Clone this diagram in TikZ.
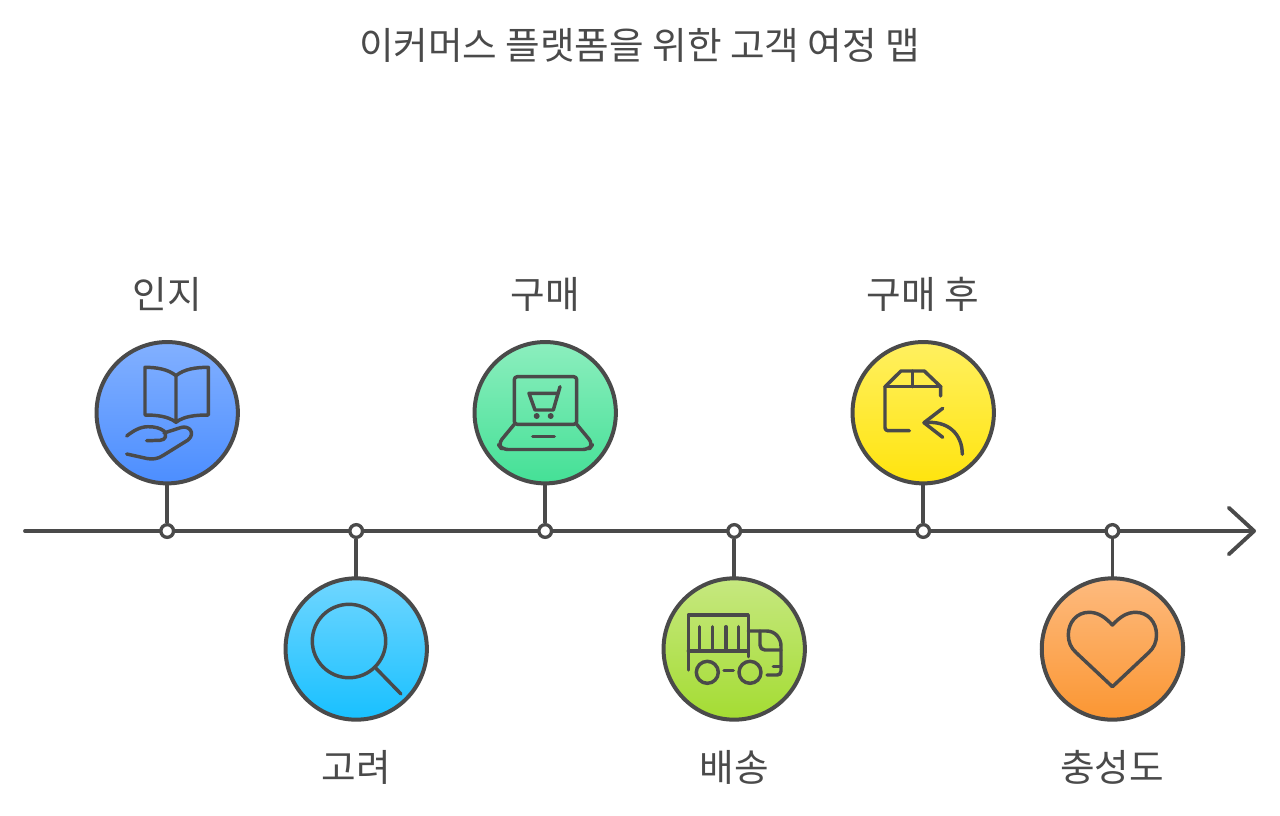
\documentclass[tikz,border=0pt]{standalone}
\usepackage{fontspec}
\usepackage{xcolor}
\usetikzlibrary{arrows.meta}
\setmainfont{Noto Sans CJK KR}
\definecolor{ink}{RGB}{74,74,74}
\definecolor{blueA}{RGB}{130,176,255}
\definecolor{blueB}{RGB}{76,142,255}
\definecolor{cyanA}{RGB}{112,214,255}
\definecolor{cyanB}{RGB}{24,192,255}
\definecolor{mintA}{RGB}{140,238,190}
\definecolor{mintB}{RGB}{68,224,150}
\definecolor{limeA}{RGB}{198,232,128}
\definecolor{limeB}{RGB}{164,220,50}
\definecolor{sunA}{RGB}{255,240,96}
\definecolor{sunB}{RGB}{255,228,14}
\definecolor{peachA}{RGB}{253,186,126}
\definecolor{peachB}{RGB}{251,150,50}
\tikzset{
  stage/.style={circle, draw=ink, line width=3pt, minimum size=106pt, inner sep=0pt, outer sep=0pt},
  tick/.style={circle, draw=ink, fill=white, line width=2.5pt, minimum size=9.5pt, inner sep=0pt},
  stem/.style={draw=ink, line width=2.8pt},
  axisLine/.style={draw=ink, line width=2.9pt, line cap=round, -{Straight Barb[length=19pt, width=35pt, line width=2.9pt, round]}},
  glyph/.style={draw=ink, line width=2.6pt, line cap=round, line join=round},
  label/.style={text=ink, font=\fontsize{28.2}{32}\selectfont, inner sep=0pt}
}
\newcommand{\IconBook}{%
  \draw[glyph] (176,375.7) .. controls (168,369) and (156,367.3) .. (145,367.3) -- (145,415)
    .. controls (156,415) and (168,416) .. (176,422.3)
    .. controls (184,416) and (196,415) .. (208.3,415) -- (208.3,367.3)
    .. controls (196,367.3) and (184,369) .. (176,375.7) -- cycle (176,375.7) -- (176,422.3);
  \draw[glyph] (126.7,436) .. controls (133,431) and (140,426.7) .. (148,426.7)
    .. controls (155,426.7) and (160,428) .. (164,431) .. controls (167,435) and (166,440) .. (160,440.3) -- (146.7,440.7);
  \draw[glyph] (164,433) -- (181,427.5) .. controls (189,425) and (196,433) .. (188,440)
    -- (163,455.5) .. controls (158,459) and (152,459.5) .. (147,458.5) -- (126.7,454);
}
\newcommand{\IconSearch}{%
  \draw[glyph] (349,641) circle (36.7);
  \draw[glyph] (376,668.3) -- (401,694);
}
\newcommand{\IconCart}{%
  \draw[glyph, rounded corners=2.2pt] (514.3,424.3) -- (514.3,376.7) -- (576.7,376.7) -- (576.7,424.3) -- cycle;
  \draw[glyph, rounded corners=4.5pt] (514.3,424.3) -- (498,444) -- (502,449.5) -- (589,449.5) -- (593,444) -- (576.7,424.3);
  \draw[glyph] (532.7,436.7) -- (554.3,436.7);
  \draw[glyph] (560,386.7) -- (553.3,410) -- (535,410) -- (529,393.3) -- (556.5,393.3);
  \fill[ink] (536.7,416) circle (3) (550.7,416) circle (3);
}
\newcommand{\IconTruck}{%
  \draw[glyph] (688.3,670) -- (688.3,615) -- (748.3,615) -- (748.3,656.7);
  \draw[glyph] (688.3,651) -- (748.3,651);
  \foreach \slatx in {699.3,712.7,726,738.3}{%
    \draw[glyph] (\slatx,626.7) -- (\slatx,651);
  }
  \draw[glyph] (748.3,631) -- (766.7,631) .. controls (775,631) and (781,638) .. (781,646)
    -- (781,671) .. controls (781,674) and (779,675) .. (777,675) -- (767,675);
  \draw[glyph] (773.3,666.7) -- (781,666.7);
  \draw[glyph] (760,631) -- (760,645) .. controls (760,648) and (762,650) .. (765,650) -- (781,650);
  \draw[glyph] (707.3,672.3) circle (11) (750,672.3) circle (11);
  \draw[glyph] (724,670.7) -- (733.3,670.7);
}
\newcommand{\IconReturn}{%
  \draw[glyph, rounded corners=2.2pt] (909.3,430.7) -- (885,430.7) -- (885,386.7);
  \draw[glyph] (885,386.7) -- (901,371) -- (924.3,371) -- (940.7,386.7) -- (940.7,396);
  \draw[glyph] (885,386.7) -- (940.7,386.7);
  \draw[glyph] (912.7,371) -- (912.7,386.7);
  \draw[glyph] (942.7,408.3) -- (924,422.7) -- (942.7,437.3);
  \draw[glyph] (924,422.7) .. controls (948,420) and (962.3,434) .. (962.3,454.3);
}
\newcommand{\IconHeart}{%
  \draw[glyph] (1112.4,625) .. controls (1105,617) and (1098,612.3) .. (1089,612.3)
    .. controls (1077,612.3) and (1068.3,622) .. (1068.3,635)
    .. controls (1068.3,642) and (1071,648) .. (1076,652.5) -- (1112.4,686.7)
    -- (1148.8,652.5) .. controls (1153.8,648) and (1156.5,642) .. (1156.5,635)
    .. controls (1156.5,622) and (1147.8,612.3) .. (1135.8,612.3)
    .. controls (1126.8,612.3) and (1119.8,617) .. (1112.4,625) -- cycle;
}

\begin{document}
\begin{tikzpicture}[x=0.75pt, y=-0.75pt]
  \useasboundingbox (0,0) rectangle (1280,815);
  \node[label] (title) at (639.5,45.5) {이커머스 플랫폼을 위한 고객 여정 맵};
  % time axis
  \coordinate (axisStart) at (25,531);
  \coordinate (axisTip) at (1256,531);
  \draw[axisLine] (axisStart) -- (axisTip);
  % stages
  \node[stage, top color=blueA, bottom color=blueB] (aware) at (167.2,412.7) {};
  \node[stage, top color=cyanA, bottom color=cyanB] (consider) at (356.2,649) {};
  \node[stage, top color=mintA, bottom color=mintB] (purchase) at (545.2,412.7) {};
  \node[stage, top color=limeA, bottom color=limeB] (ship) at (734.2,649) {};
  \node[stage, top color=sunA, bottom color=sunB] (after) at (923.2,412.7) {};
  \node[stage, top color=peachA, bottom color=peachB] (loyal) at (1112.4,649) {};
  % ticks on the axis, stems up or down to the stages
  \foreach \name/\tx in {aware/167.2,consider/356.2,purchase/545.2,ship/734.2,after/923.2,loyal/1112.4}{%
    \node[tick] (\name Tick) at (\tx,531) {};
    \draw[stem] (\name Tick) -- (\name);
  }
  % icons
  \IconBook
  \IconSearch
  \IconCart
  \IconTruck
  \IconReturn
  \IconHeart
  % labels
  \node[label] (awareText) at (167,294) {인지};
  \node[label] (considerText) at (356,767) {고려};
  \node[label] (purchaseText) at (545,294) {구매};
  \node[label] (shipText) at (734,767) {배송};
  \node[label] (afterText) at (923,294) {구매 후};
  \node[label] (loyalText) at (1112,767) {충성도};
\end{tikzpicture}
\end{document}
